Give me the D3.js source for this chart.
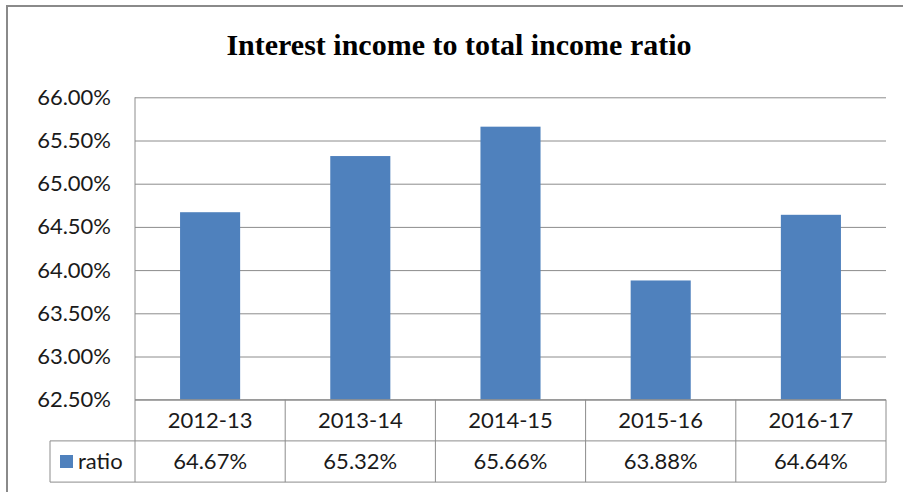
<!DOCTYPE html>
<html>
<head>
<meta charset="utf-8">
<script src="https://cdn.jsdelivr.net/npm/d3@7"></script>
<style>
  body { margin: 0; background: #fff; }
  svg { display: block; }
</style>
</head>
<body>
<div id="chart"></div>
<script>
// data
const categories = ['2012-13', '2013-14', '2014-15', '2015-16', '2016-17'];
const ratio = [64.67, 65.32, 65.66, 63.88, 64.64];
const yTicks = [62.5, 63, 63.5, 64, 64.5, 65, 65.5, 66];
const seriesName = 'ratio';

const W = 903, H = 492;
const plotLeft = 135, plotRight = 886, plotTop = 97.3, plotBottom = 399.7;
const rowH = 41.2;
const legendLeft = 50;
const labelFont = 'Lato, "Open Sans", sans-serif';

const svg = d3.select('#chart').append('svg')
    .attr('width', W)
    .attr('height', H);

// outer frame (cut off at right and bottom)
svg.append('rect')
    .attr('x', 7).attr('y', 6)
    .attr('width', 940).attr('height', 520)
    .attr('fill', 'none')
    .attr('stroke', '#8a8a8a')
    .attr('stroke-width', 2);

// title
svg.append('text')
    .attr('x', 459).attr('y', 55)
    .attr('text-anchor', 'middle')
    .attr('font-family', '"Liberation Serif", "Times New Roman", serif')
    .attr('font-weight', 'bold')
    .attr('font-size', 30)
    .attr('fill', '#000')
    .text('Interest income to total income ratio');

const y = d3.scaleLinear().domain([62.5, 66]).range([plotBottom, plotTop]);
const x = d3.scaleBand().domain(categories).range([plotLeft, plotRight])
    .paddingInner(0.6).paddingOuter(0.3);
const col = d3.scaleBand().domain(categories).range([plotLeft, plotRight]);

// gridlines + tick labels
const yAxis = d3.axisLeft(y)
    .tickValues(yTicks)
    .tickSize(-(plotRight - plotLeft))
    .tickPadding(24)
    .tickFormat(d => d.toFixed(2) + '%');

const gy = svg.append('g')
    .attr('transform', `translate(${plotLeft},0)`)
    .call(yAxis);
gy.select('.domain').remove();
gy.selectAll('.tick line').attr('stroke', '#8c8c8c').attr('stroke-width', 1);
gy.selectAll('.tick text')
    .attr('font-family', labelFont)
    .attr('font-size', 22)
    .attr('fill', '#1a1a1a');

// bars
svg.append('g').selectAll('rect')
    .data(ratio)
    .join('rect')
    .attr('x', (d, i) => x(categories[i]))
    .attr('y', d => y(d))
    .attr('width', x.bandwidth())
    .attr('height', d => y(62.5) - y(d))
    .attr('fill', '#4f81bd');

// data table
const table = svg.append('g')
    .attr('stroke', '#8c8c8c')
    .attr('stroke-width', 1)
    .attr('fill', 'none');

// left axis line through plot and table
table.append('line')
    .attr('x1', plotLeft).attr('x2', plotLeft)
    .attr('y1', plotTop).attr('y2', plotBottom + 2 * rowH);
// horizontal rules
table.append('line')
    .attr('x1', plotLeft).attr('x2', plotRight)
    .attr('y1', plotBottom).attr('y2', plotBottom);
table.append('line')
    .attr('x1', legendLeft).attr('x2', plotRight)
    .attr('y1', plotBottom + rowH).attr('y2', plotBottom + rowH);
table.append('line')
    .attr('x1', legendLeft).attr('x2', plotRight)
    .attr('y1', plotBottom + 2 * rowH).attr('y2', plotBottom + 2 * rowH);
// legend cell left edge
table.append('line')
    .attr('x1', legendLeft).attr('x2', legendLeft)
    .attr('y1', plotBottom + rowH).attr('y2', plotBottom + 2 * rowH);
// column dividers
table.selectAll('.divider')
    .data(categories)
    .join('line')
    .attr('class', 'divider')
    .attr('x1', d => col(d) + col.bandwidth())
    .attr('x2', d => col(d) + col.bandwidth())
    .attr('y1', plotBottom).attr('y2', plotBottom + 2 * rowH);

// category labels
svg.append('g').selectAll('text')
    .data(categories)
    .join('text')
    .attr('x', d => col(d) + col.bandwidth() / 2)
    .attr('y', plotBottom + rowH / 2)
    .attr('dy', '0.35em')
    .attr('text-anchor', 'middle')
    .attr('font-family', labelFont)
    .attr('font-size', 22)
    .attr('fill', '#1a1a1a')
    .text(d => d);

// value labels
svg.append('g').selectAll('text')
    .data(ratio)
    .join('text')
    .attr('x', (d, i) => col(categories[i]) + col.bandwidth() / 2)
    .attr('y', plotBottom + rowH * 1.5)
    .attr('dy', '0.35em')
    .attr('text-anchor', 'middle')
    .attr('font-family', labelFont)
    .attr('font-size', 22)
    .attr('fill', '#1a1a1a')
    .text(d => d.toFixed(2) + '%');

// legend key
svg.append('rect')
    .attr('x', 60).attr('y', plotBottom + rowH * 1.5 - 6.5)
    .attr('width', 13).attr('height', 13)
    .attr('fill', '#4f81bd');
svg.append('text')
    .attr('x', 78)
    .attr('y', plotBottom + rowH * 1.5)
    .attr('dy', '0.35em')
    .attr('font-family', labelFont)
    .attr('font-size', 22)
    .attr('fill', '#1a1a1a')
    .text(seriesName);
</script>
</body>
</html>
